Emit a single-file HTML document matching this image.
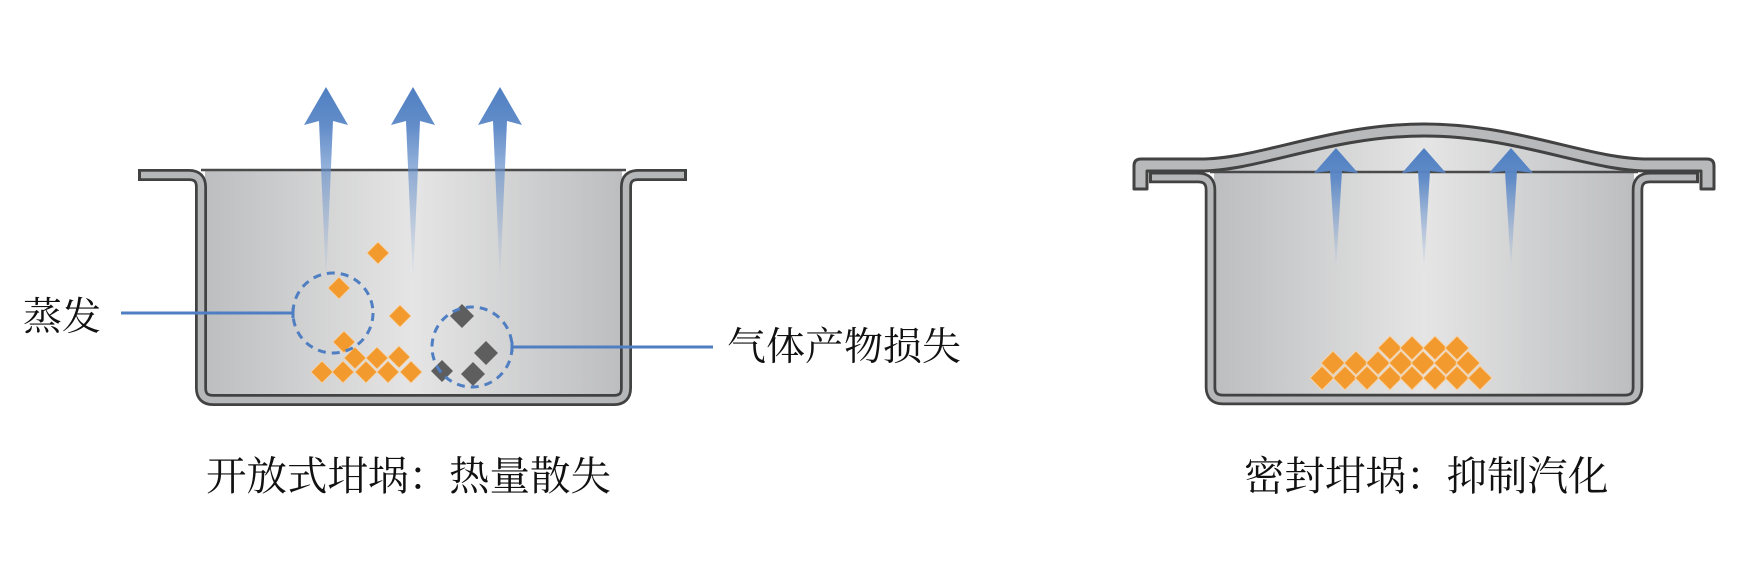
<!DOCTYPE html>
<html><head><meta charset="utf-8"><style>html,body{margin:0;padding:0;background:#fff}svg{display:block}</style></head>
<body>
<svg width="1764" height="588" viewBox="0 0 1764 588" xmlns="http://www.w3.org/2000/svg">
<defs>
<linearGradient id="gl" gradientUnits="userSpaceOnUse" x1="195" y1="0" x2="631" y2="0">
<stop offset="0" stop-color="#bbbcbe"/><stop offset="0.5" stop-color="#e5e5e5"/><stop offset="1" stop-color="#bbbcbe"/></linearGradient>
<linearGradient id="gr" gradientUnits="userSpaceOnUse" x1="1205" y1="0" x2="1643" y2="0">
<stop offset="0" stop-color="#bbbcbe"/><stop offset="0.5" stop-color="#e5e5e5"/><stop offset="1" stop-color="#bbbcbe"/></linearGradient>
<linearGradient id="al" gradientUnits="userSpaceOnUse" x1="0" y1="87" x2="0" y2="282">
<stop offset="0" stop-color="#4f7fc2"/><stop offset="0.2" stop-color="#5a87c6" stop-opacity="0.95"/><stop offset="1" stop-color="#7fa2d4" stop-opacity="0"/></linearGradient>
<linearGradient id="ar" gradientUnits="userSpaceOnUse" x1="0" y1="148" x2="0" y2="270">
<stop offset="0" stop-color="#4f7fc2"/><stop offset="0.25" stop-color="#5a87c6" stop-opacity="0.95"/><stop offset="1" stop-color="#7fa2d4" stop-opacity="0"/></linearGradient>
</defs>

<!-- LEFT crucible -->
<rect x="205" y="170" width="417" height="226" fill="url(#gl)"/>
<line x1="201" y1="170" x2="626" y2="170" stroke="#4a4a4a" stroke-width="2.5"/>
<path d="M138,175 H189 Q201,175 201,187 V388 Q201,400 213,400 H614 Q626,400 626,388 V187 Q626,175 638,175 H687" fill="none" stroke="#424242" stroke-width="12"/>
<path d="M141,175 H189 Q201,175 201,187 V388 Q201,400 213,400 H614 Q626,400 626,388 V187 Q626,175 638,175 H684" fill="none" stroke="#b6b7b9" stroke-width="6.5"/>

<!-- left arrows -->
<g fill="url(#al)">
<polygon points="326,87 348,125 333,121 326,282 319,121 304,125"/>
<polygon points="413,87 435,125 420,121 413,282 406,121 391,125"/>
<polygon points="500,87 522,125 507,121 500,282 493,121 478,125"/>
</g>

<!-- left particles -->
<g fill="#f29a2e" stroke="#f6d2a6" stroke-width="0.8">
<polygon points="378,242 389,253 378,264 367,253"/>
<polygon points="339,277 350,288 339,299 328,288"/>
<polygon points="400,305 411,316 400,327 389,316"/>
<polygon points="344,331 355,342 344,353 333,342"/>
<polygon points="355,347 366,358 355,369 344,358"/>
<polygon points="377,347 388,358 377,369 366,358"/>
<polygon points="399,346 410,357 399,368 388,357"/>
<polygon points="322,361 333,372 322,383 311,372"/>
<polygon points="343,361 354,372 343,383 332,372"/>
<polygon points="366,361 377,372 366,383 355,372"/>
<polygon points="388,361 399,372 388,383 377,372"/>
<polygon points="411,361 422,372 411,383 400,372"/>
</g>
<g fill="#5e5e5e">
<polygon points="462,304 474,316 462,328 450,316"/>
<polygon points="486,341 498,353 486,365 474,353"/>
<polygon points="473,362 485,374 473,386 461,374"/>
<polygon points="442,360 453,371 442,382 431,371"/>
</g>

<!-- circles & connectors -->
<g fill="none" stroke="#4f7fc2" stroke-width="3">
<circle cx="333" cy="313" r="40" stroke-dasharray="8 6"/>
<circle cx="472" cy="347" r="40" stroke-dasharray="8 6"/>
<line x1="121" y1="313" x2="293" y2="313"/>
<line x1="293" y1="308" x2="293" y2="318"/>
<line x1="512" y1="347" x2="713" y2="347"/>
<line x1="512" y1="342" x2="512" y2="352"/>
</g>

<!-- RIGHT crucible -->
<path d="M1200,171 C1260,171 1330,136 1424,136 C1518,136 1588,171 1648,171 H1634 V396 H1214 V171 Z" fill="url(#gr)"/>
<path d="M1134,189 V166 Q1134,159 1141,159 H1200 C1260,159 1330,124 1424,124 C1518,124 1588,159 1648,159 H1707 Q1714,159 1714,166 V189 H1701 V171 H1648 C1588,171 1518,136 1424,136 C1330,136 1260,171 1200,171 H1147 V189 Z" fill="#b8b9bb" stroke="#424242" stroke-width="3" stroke-linejoin="round"/>
<line x1="1210" y1="172" x2="1638" y2="172" stroke="#4a4a4a" stroke-width="2.5"/>
<path d="M1149,177.5 H1198 Q1210.5,177.5 1210.5,190 V387 Q1210.5,399.5 1223,399.5 H1625 Q1637.5,399.5 1637.5,387 V190 Q1637.5,177.5 1650,177.5 H1699" fill="none" stroke="#424242" stroke-width="11.5"/>
<path d="M1152,177.5 H1198 Q1210.5,177.5 1210.5,190 V387 Q1210.5,399.5 1223,399.5 H1625 Q1637.5,399.5 1637.5,387 V190 Q1637.5,177.5 1650,177.5 H1696" fill="none" stroke="#b6b7b9" stroke-width="6"/>

<!-- right arrows -->
<g fill="url(#ar)">
<polygon points="1336,148 1358,173 1342,171 1336,270 1330,171 1314,173"/>
<polygon points="1424,148 1446,173 1430,171 1424,270 1418,171 1402,173"/>
<polygon points="1511,148 1533,173 1517,171 1511,270 1505,171 1489,173"/>
</g>

<!-- right particles -->
<g fill="#f29a2e" stroke="#f6d2a6" stroke-width="1">
<polygon points="1390,336 1402,348 1390,360 1378,348"/>
<polygon points="1412,336 1424,348 1412,360 1400,348"/>
<polygon points="1435,336 1447,348 1435,360 1423,348"/>
<polygon points="1457,336 1469,348 1457,360 1445,348"/>
<polygon points="1333,351 1345,363 1333,375 1321,363"/>
<polygon points="1356,351 1368,363 1356,375 1344,363"/>
<polygon points="1378,351 1390,363 1378,375 1366,363"/>
<polygon points="1401,351 1413,363 1401,375 1389,363"/>
<polygon points="1423,351 1435,363 1423,375 1411,363"/>
<polygon points="1446,351 1458,363 1446,375 1434,363"/>
<polygon points="1468,351 1480,363 1468,375 1456,363"/>
<polygon points="1322,366 1334,378 1322,390 1310,378"/>
<polygon points="1345,366 1357,378 1345,390 1333,378"/>
<polygon points="1367,366 1379,378 1367,390 1355,378"/>
<polygon points="1390,366 1402,378 1390,390 1378,378"/>
<polygon points="1412,366 1424,378 1412,390 1400,378"/>
<polygon points="1435,366 1447,378 1435,390 1423,378"/>
<polygon points="1457,366 1469,378 1457,390 1445,378"/>
<polygon points="1480,366 1492,378 1480,390 1468,378"/>
</g>

<!-- text -->
<g font-family="'Liberation Serif','Noto Serif CJK SC',serif" font-size="39" fill="#111">
<text x="23" y="330">蒸发</text>
<text x="727" y="360">气体产物损失</text>
<text x="206" y="490" font-size="40.5">开放式坩埚：热量散失</text>
<text x="1244" y="490" font-size="40.5">密封坩埚：抑制汽化</text>
</g>
</svg>
</body></html>
